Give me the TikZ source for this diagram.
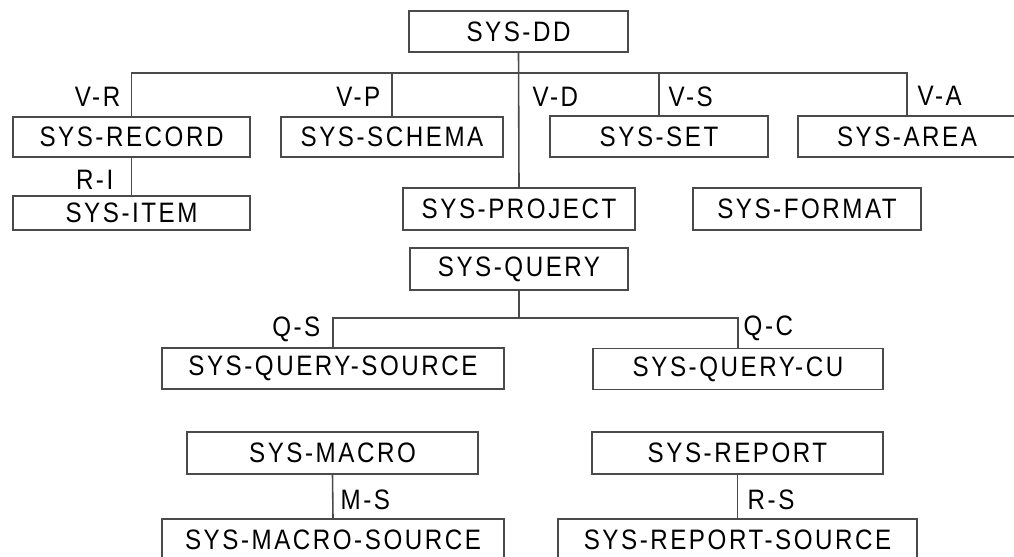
\documentclass[tikz,border=0pt]{standalone}
\usepackage{fontspec}
\setmainfont{Liberation Sans}[FakeStretch=0.86,LetterSpace=9]

\begin{document}
\begin{tikzpicture}[
    box/.style={draw=lineColour, line width=0.45pt, rectangle, inner sep=0pt, minimum height=0.41cm},
    lbl/.style={inner sep=0pt},
    every node/.style={font=\fontsize{8}{9.6}\selectfont},
]
    \definecolor{lineColour}{HTML}{4A4A4A}
    \useasboundingbox (0,0) rectangle (10.14,-5.56);

    % Data dictionary root and its members
    \node[box, minimum width=2.19cm] (dd) at (5.185,-0.315) {SYS-DD};
    \node[box, minimum width=2.37cm, minimum height=0.40cm] (record) at (1.315,-1.37) {SYS-RECORD};
    \node[box, minimum width=2.37cm, minimum height=0.34cm] (item) at (1.315,-2.13) {SYS-ITEM};
    \node[box, minimum width=2.22cm, minimum height=0.40cm] (schema) at (3.92,-1.37) {SYS-SCHEMA};
    \node[box, minimum width=2.18cm] (set) at (6.59,-1.365) {SYS-SET};
    \node[box, minimum width=2.18cm] (area) at (9.07,-1.365) {SYS-AREA};
    \node[box, minimum width=2.32cm, minimum height=0.42cm] (project) at (5.19,-2.09) {SYS-PROJECT};
    \node[box, minimum width=2.28cm, minimum height=0.42cm] (format) at (8.07,-2.09) {SYS-FORMAT};

    % Query group
    \node[box, minimum width=2.18cm, minimum height=0.42cm] (query) at (5.19,-2.69) {SYS-QUERY};
    \node[box, minimum width=3.42cm] (qsource) at (3.33,-3.685) {SYS-QUERY-SOURCE};
    \node[box, minimum width=2.90cm] (qcu) at (7.38,-3.69) {SYS-QUERY-CU};

    % Macros and reports
    \node[box, minimum width=2.91cm, minimum height=0.42cm] (macro) at (3.325,-4.53) {SYS-MACRO};
    \node[box, minimum width=3.42cm] (msource) at (3.33,-5.395) {SYS-MACRO-SOURCE};
    \node[box, minimum width=2.91cm, minimum height=0.42cm] (report) at (7.375,-4.53) {SYS-REPORT};
    \node[box, minimum width=3.59cm] (rsource) at (7.375,-5.395) {SYS-REPORT-SOURCE};

    % Bus lines
    \coordinate (vbus) at (5.19,-0.73);
    \coordinate (qbus) at (5.19,-3.18);

    \draw[lineColour, line width=0.45pt] (dd.south) -- (project.north);
    \draw[lineColour, line width=0.45pt] (record.north) |- (vbus) -| (area.north);
    \draw[lineColour, line width=0.45pt] (schema.north) -- (schema.north |- vbus);
    \draw[lineColour, line width=0.45pt] (set.north) -- (set.north |- vbus);
    \draw[lineColour, line width=0.45pt] (record.south) -- (item.north);

    \draw[lineColour, line width=0.45pt] (query.south) -- (qbus);
    \draw[lineColour, line width=0.45pt] (qsource.north) |- (qbus) -| (qcu.north);

    \draw[lineColour, line width=0.45pt] (macro.south) -- (msource.north);
    \draw[lineColour, line width=0.45pt] (report.south) -- (rsource.north);

    % Set names
    \node[lbl, anchor=east] (vr) at (1.21,-0.965) {V-R};
    \node[lbl, anchor=east] (vp) at (3.81,-0.965) {V-P};
    \node[lbl, anchor=west] (vd) at (5.32,-0.965) {V-D};
    \node[lbl, anchor=west] (vs) at (6.68,-0.965) {V-S};
    \node[lbl, anchor=west] (va) at (9.17,-0.96) {V-A};
    \node[lbl, anchor=east] (ri) at (1.14,-1.80) {R-I};
    \node[lbl, anchor=east] (qs) at (3.21,-3.29) {Q-S};
    \node[lbl, anchor=west] (qc) at (7.43,-3.28) {Q-C};
    \node[lbl, anchor=west] (ms) at (3.40,-5.00) {M-S};
    \node[lbl, anchor=west] (rs) at (7.47,-5.00) {R-S};

\end{tikzpicture}
\end{document}
